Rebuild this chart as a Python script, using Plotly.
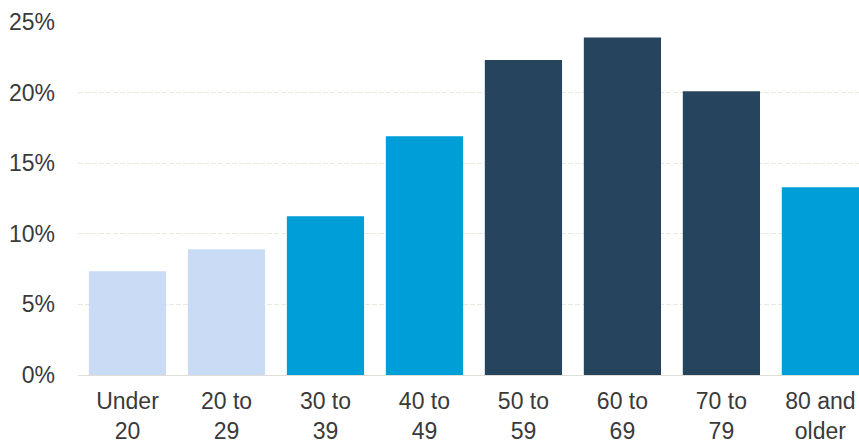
import plotly.graph_objects as go

categories = ["Under<br>20", "20 to<br>29", "30 to<br>39", "40 to<br>49", "50 to<br>59", "60 to<br>69", "70 to<br>79", "80 and<br>older"]
values = [7.35, 8.9, 11.25, 16.9, 22.3, 23.9, 20.1, 13.3]
groups = ["light", "light", "mid", "mid", "dark", "dark", "dark", "mid"]
palette = {"light": "#c9dbf5", "mid": "#009ed9", "dark": "#27445e"}
tick_vals = [0, 5, 10, 15, 20, 25]
tick_text = ["0%", "5%", "10%", "15%", "20%", "25%"]

fig = go.Figure(go.Bar(
    x=list(range(len(categories))),
    y=values,
    marker=dict(color=[palette[g] for g in groups], line=dict(width=0)),
    hoverinfo="skip",
))

fig.update_layout(
    width=859, height=444,
    margin=dict(l=78, r=0, t=22, b=69),
    paper_bgcolor="white", plot_bgcolor="white",
    bargap=0.22,
    showlegend=False,
    font=dict(family="Liberation Sans, Arial, sans-serif", size=23, color="#3a3a3a"),
)
fig.update_xaxes(
    tickmode="array", tickvals=list(range(len(categories))), ticktext=categories,
    range=[-0.5, 7.39], showgrid=False, zeroline=False,
    showline=True, linecolor="#e0dcd6", linewidth=1,
    ticks="", ticklabelstandoff=5, tickfont=dict(size=23, color="#3a3a3a"),
)
fig.update_yaxes(
    range=[0, 25], tickmode="array", tickvals=tick_vals, ticktext=tick_text,
    showgrid=True, gridcolor="#ebe8e0", griddash="5px,2px", gridwidth=1,
    zeroline=False, showline=False, ticks="", ticklabelstandoff=22,
    tickfont=dict(size=23, color="#3a3a3a"),
)

fig.write_html(
    "out.html",
    config={"displayModeBar": False},
    post_script="document.body.style.margin='0';document.body.style.overflow='hidden';",
)
